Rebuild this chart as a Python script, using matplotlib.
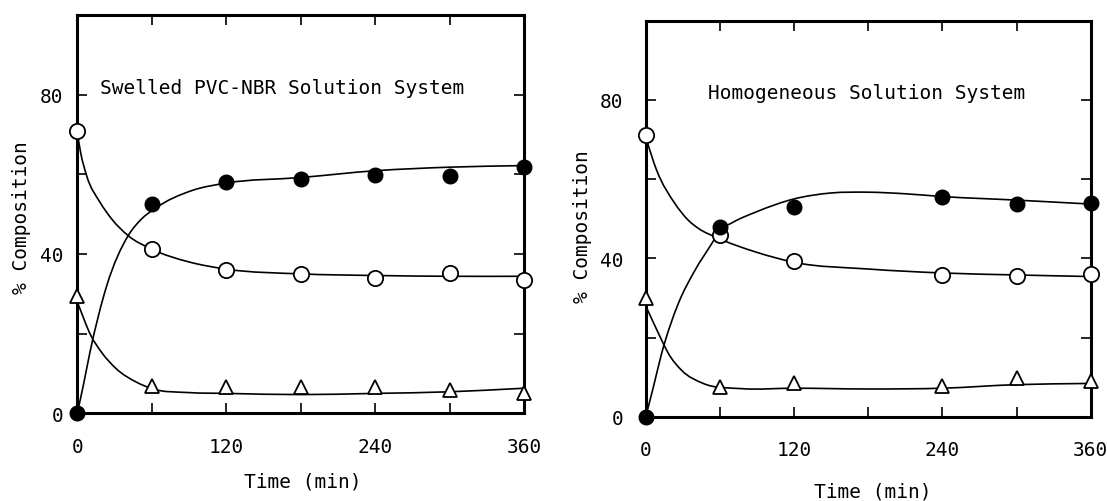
import matplotlib
matplotlib.use("Agg")
import matplotlib.pyplot as plt
from matplotlib.path import Path
from matplotlib.patches import PathPatch

# ---------------- data ----------------
time_pts = [0, 60, 120, 180, 240, 300, 360]
left_filled = [0, 52.6, 58.0, 58.8, 59.9, 59.7, 61.8]
left_open = [71.0, 41.3, 36.1, 35.0, 34.0, 35.2, 33.5]
left_tri = [29.5, 6.9, 6.5, 6.5, 6.7, 5.9, 5.1]

time_pts_r = [0, 60, 120, 240, 300, 360]
right_filled = [0, 48.0, 52.9, 55.6, 53.6, 53.9]
right_open = [71.2, 45.9, 39.2, 35.8, 35.5, 36.0]
right_tri = [29.9, 7.4, 8.5, 7.8, 9.7, 9.1]

# hand-drawn fitted curves (knots)
lf_curve_t = [0, 4.8, 10.2, 23.7, 41, 51.8, 62, 93, 120, 180, 240, 300, 360]
lf_curve_y = [0, 6.9, 15.3, 32.0, 44.6, 48.8, 51.3, 56.0, 57.8, 59.2, 60.9, 61.8, 62.2]
lo_curve_t = [0, 2.7, 7.5, 18.3, 27.7, 41, 60, 90, 120, 180, 240, 300, 360]
lo_curve_y = [70.5, 65.5, 59.7, 53.0, 48.8, 44.6, 41.2, 38.0, 36.2, 35.0, 34.6, 34.4, 34.4]
lt_curve_t = [0, 11, 19.6, 31.7, 47.8, 60, 90, 120, 180, 240, 300, 360]
lt_curve_y = [28.0, 19.5, 15.3, 11.1, 7.8, 6.2, 5.2, 5.0, 4.7, 5.0, 5.4, 6.3]

rf_curve_t = [0, 6.2, 12.9, 26.4, 39.9, 53.4, 60, 70, 90, 120, 150, 180, 210, 240, 300, 360]
rf_curve_y = [0, 7.5, 16.0, 28.6, 37.0, 43.7, 47.0, 49.0, 51.8, 55.0, 56.5, 56.7, 56.3, 55.6, 54.7, 53.7]
ro_curve_t = [0, 8.9, 23.7, 34.5, 43.4, 57, 90, 120, 180, 240, 300, 360]
ro_curve_y = [70.5, 62.2, 53.8, 49.6, 47.4, 45.3, 41.5, 39.0, 37.3, 36.3, 35.8, 35.4]
rt_curve_t = [0, 11.6, 18.3, 29.1, 46.6, 77, 120, 180, 240, 300, 360]
rt_curve_y = [28.0, 20.2, 16.0, 11.7, 8.4, 7.1, 7.2, 7.0, 7.2, 8.1, 8.4]

x_ticks = [0, 60, 120, 180, 240, 300, 360]
x_ticklabels = ["0", "", "120", "", "240", "", "360"]
y_ticks = [0, 20, 40, 60, 80]
y_ticklabels = ["0", "", "40", "", "80"]

titles = ["Swelled PVC-NBR Solution System", "Homogeneous Solution System"]
xlabel = "Time (min)"
ylabel = "% Composition"

# ---------------- styling ----------------
plt.rcParams['font.family'] = ['DejaVu Sans Mono', 'DejaVu Sans']
FS = 14

fig = plt.figure(figsize=(11.07, 5.02), dpi=100)
ax_l = fig.add_axes([0.0698, 0.1747, 0.4038, 0.7934])
ax_r = fig.add_axes([0.5833, 0.1679, 0.4020, 0.7888])


def smooth_curve(ax, ts, ys):
    """Draw a smooth curve through the knots as cubic Bezier segments
    (Hermite form, tangents from neighbouring secants)."""
    n = len(ts)
    h = [ts[i + 1] - ts[i] for i in range(n - 1)]
    d = [(ys[i + 1] - ys[i]) / h[i] for i in range(n - 1)]
    m = [0.0] * n
    m[0] = d[0]
    m[-1] = d[-1]
    for i in range(1, n - 1):
        m[i] = (h[i - 1] * d[i] + h[i] * d[i - 1]) / (h[i - 1] + h[i])
    verts = [(ts[0], ys[0])]
    codes = [Path.MOVETO]
    for i in range(n - 1):
        c1 = (ts[i] + h[i] / 3.0, ys[i] + m[i] * h[i] / 3.0)
        c2 = (ts[i + 1] - h[i] / 3.0, ys[i + 1] - m[i + 1] * h[i] / 3.0)
        verts += [c1, c2, (ts[i + 1], ys[i + 1])]
        codes += [Path.CURVE4] * 3
    patch = PathPatch(Path(verts, codes), facecolor='none', edgecolor='black',
                      lw=1.2, transform=ax.transData, zorder=2)
    ax.add_patch(patch)


def style(ax, title, tx, ypad, xlab_xy, ylab_xy):
    ax.set_xlim(0, 360)
    ax.set_ylim(0, 100)
    ax.set_xticks(x_ticks)
    ax.set_xticklabels(x_ticklabels)
    ax.set_yticks(y_ticks)
    ax.set_yticklabels(y_ticklabels)
    ax.tick_params(axis='both', direction='in', length=7, width=1.2,
                   top=True, right=True, labelsize=FS)
    ax.tick_params(axis='x', pad=17)
    ax.tick_params(axis='y', pad=ypad)
    for s in ax.spines.values():
        s.set_linewidth(2.2)
    ax.set_xlabel(xlabel, fontsize=FS)
    ax.set_ylabel(ylabel, fontsize=FS)
    ax.xaxis.set_label_coords(*xlab_xy)
    ax.yaxis.set_label_coords(*ylab_xy)
    ax.xaxis.label.set_va('center')
    ax.yaxis.label.set_va('center')
    ax.text(tx, 81.8, title, fontsize=FS, va='center', ha='left')


def markers(ax, t, filled, opn, tri):
    ax.plot(t, opn, linestyle='none', marker='o', ms=11, mfc='white',
            mec='black', mew=1.3, clip_on=False, zorder=4)
    ax.plot(t, filled, linestyle='none', marker='o', ms=10.5, mfc='black',
            mec='black', mew=1.0, clip_on=False, zorder=5)
    ax.plot(t, tri, linestyle='none', marker='^', ms=10, mfc='white',
            mec='black', mew=1.3, clip_on=False, zorder=4)


# left panel
smooth_curve(ax_l, lf_curve_t, lf_curve_y)
smooth_curve(ax_l, lo_curve_t, lo_curve_y)
smooth_curve(ax_l, lt_curve_t, lt_curve_y)
markers(ax_l, time_pts, left_filled, left_open, left_tri)
style(ax_l, titles[0], 18.3, 10, (0.504, -0.169), (-0.124, 0.495))

# right panel
smooth_curve(ax_r, rf_curve_t, rf_curve_y)
smooth_curve(ax_r, ro_curve_t, ro_curve_y)
smooth_curve(ax_r, rt_curve_t, rt_curve_y)
markers(ax_r, time_pts_r, right_filled, right_open, right_tri)
style(ax_r, titles[1], 50.6, 16, (0.51, -0.187), (-0.143, 0.482))

fig.savefig("out.png", dpi=100)
